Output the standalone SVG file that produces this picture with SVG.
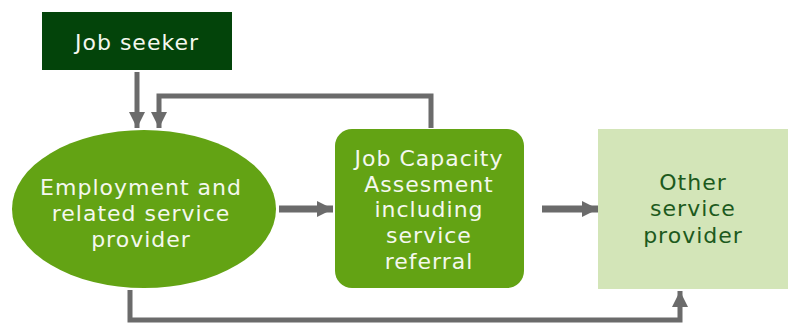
<svg xmlns="http://www.w3.org/2000/svg" width="792" height="323" viewBox="0 0 792 323">
<style>
.t{font-family:"DejaVu Sans","Verdana",sans-serif;font-size:22px;letter-spacing:1px;text-anchor:middle;fill:#f4f8ee}
.d{fill:#1d5a1d}
.ln{fill:none;stroke:#6b6b6b;stroke-width:5}
.thick{fill:none;stroke:#6b6b6b;stroke-width:7}
</style>
<defs>
<marker id="ah" viewBox="0 0 10 10" refX="10" refY="5" markerUnits="userSpaceOnUse" markerWidth="16" markerHeight="16" orient="auto">
<path d="M0,0 L10,5 L0,10 Z" fill="#6b6b6b"/>
</marker>
</defs>
<rect width="792" height="323" fill="#ffffff"/>
<g id="job-seeker">
<rect x="42" y="12" width="190" height="58" fill="#03440a"/>
<text class="t" x="137" y="50">Job seeker</text>
</g>
<g id="employment">
<ellipse cx="144" cy="209" rx="132" ry="79" fill="#63a314"/>
<text class="t" x="141" y="195">Employment and</text>
<text class="t" x="141" y="221">related service</text>
<text class="t" x="141" y="247">provider</text>
</g>
<g id="jca">
<rect x="335" y="129" width="189" height="159" rx="17" fill="#63a314"/>
<text class="t" x="429" y="166">Job Capacity</text>
<text class="t" x="429" y="192">Assesment</text>
<text class="t" x="429" y="217">including</text>
<text class="t" x="429" y="243">service</text>
<text class="t" x="429" y="269">referral</text>
</g>
<g id="other">
<rect x="598" y="129" width="190" height="160" fill="#d3e5b8"/>
<text class="t d" x="693" y="190">Other</text>
<text class="t d" x="693" y="216">service</text>
<text class="t d" x="693" y="243">provider</text>
</g>
<g id="connectors">
<path class="ln" d="M137,72 V128" marker-end="url(#ah)"/>
<path class="ln" d="M431,128 V96 H159 V128" marker-end="url(#ah)"/>
<path class="thick" d="M279,209 H333" marker-end="url(#ah)"/>
<path class="thick" d="M542,209 H598" marker-end="url(#ah)"/>
<path class="ln" d="M130,290 V320 H680 V291" marker-end="url(#ah)"/>
</g>
</svg>
